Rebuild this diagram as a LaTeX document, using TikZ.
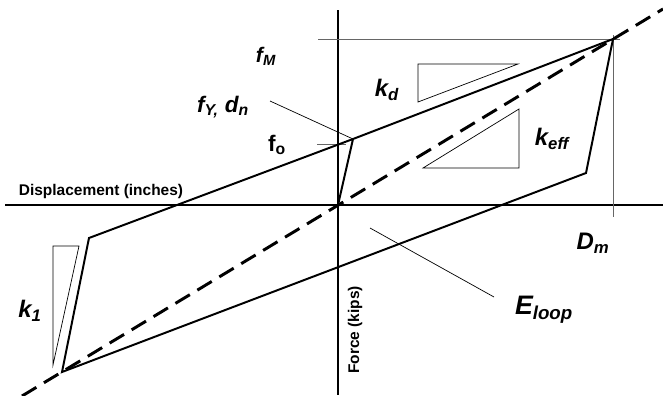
\documentclass[tikz,border=0pt]{standalone}
\usepackage{fontspec}
\setmainfont{Liberation Sans}
\tikzset{
	axis/.style={line width=0.8pt, color=black},
	guide/.style={line width=0.6pt, color=black!60},
	thin/.style={line width=0.5pt, color=black},
	loop/.style={line width=1.4pt, color=black},
	lbl/.style={font=\fontsize{17}{17}\selectfont\bfseries\itshape, inner sep=1pt},
	axlbl/.style={font=\fontsize{11}{11}\selectfont\bfseries, inner sep=1pt}
}
\begin{document}
\begin{tikzpicture}[x=0.025cm, y=-0.025cm]
	  \useasboundingbox (0,0) rectangle (663,395);
	  % axes
	  \coordinate (O) at (338,205);
	  \coordinate (xa) at (5,205);
	  \coordinate (xb) at (663,205);
	  \coordinate (ya) at (338,10);
	  \coordinate (yb) at (338,395);
	  \draw [axis] (xa) -- (xb) (ya) -- (yb);
	  \node [axlbl] at (101,191) (disp) {Displacement (inches)};
	  \node [axlbl, rotate=90] at (355,330) (force) {Force (kips)};
	  % loop corners
	  \foreach \n/\x/\y in {Y/353/139, M/613/39, R/586/173, L/62/372, T/89/238}{
	  	\coordinate (\n) at (\x,\y);
	  }
	  % guides for fM, Dm and fo
	  \coordinate (fm0) at (318,39);
	  \coordinate (fm1) at (620,39);
	  \coordinate (dm0) at (613,35);
	  \coordinate (dm1) at (613,217);
	  \coordinate (fo0) at (317,144);
	  \coordinate (fo1) at (346,144);
	  \draw [guide] (fm0) -- (fm1) (dm0) -- (dm1) (fo0) -- (fo1);
	  % effective stiffness line
	  \coordinate (ea) at (22,396);
	  \coordinate (eb) at (663,9);
	  \draw [line width=2.1pt, dash pattern=on 0.42cm off 0.22cm] (ea) -- (eb);
	  \draw [loop, line join=miter] (O) -- (Y) -- (M) -- (R) -- (L) -- (T) -- (Y);
	  % stiffness triangles
	  \draw [thin] (418,64) -- (518,64) -- (418,102) -- cycle;
	  \draw [thin] (423,168) -- (519,168) -- (519,109) -- cycle;
	  \draw [thin] (53,246) -- (79,246) -- (53,365) -- cycle;
	  % labels
	  \node [lbl, font=\fontsize{15}{15}\selectfont\bfseries\itshape] at (266,56) (fM) {f\textsubscript{M}};
	  \node [lbl, font=\fontsize{16}{16}\selectfont\bfseries\itshape] at (223,107) (fY) {f\textsubscript{Y,} d\textsubscript{n}};
	  \node [lbl, font=\fontsize{16}{16}\selectfont\bfseries] at (277,145) (fo) {f\textsubscript{o}};
	  \node [lbl] at (387,90) (kd) {k\textsubscript{d}};
	  \node [lbl] at (552,139) (keff) {k\textsubscript{eff}};
	  \node [lbl] at (30,311) (k1) {k\textsubscript{1}};
	  \node [lbl] at (593,243) (Dm) {D\textsubscript{m}};
	  \node [lbl, font=\fontsize{19}{19}\selectfont\bfseries\itshape] at (544,310) (El) {E\textsubscript{loop}};
	  % leaders
	  \coordinate (fYe) at (270,101);
	  \coordinate (Ea) at (370,228);
	  \coordinate (Eb) at (494,297);
	  \draw [thin] (fYe) -- (Y);
	  \draw [thin] (Ea) -- (Eb);
\end{tikzpicture}
\end{document}
